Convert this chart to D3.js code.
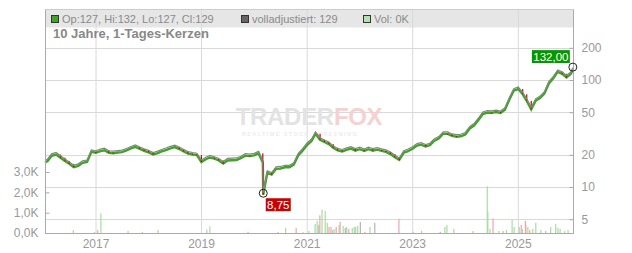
<!DOCTYPE html>
<html>
<head>
<meta charset="utf-8">
<script src="https://cdn.jsdelivr.net/npm/d3@7"></script>
<style>
  body { margin: 0; background: #fff; }
  svg { display: block; font-family: "Liberation Sans", Arial, sans-serif; }
</style>
</head>
<body>
<div id="chart"></div>
<script>
// Monatsschlusskurse Jan 2016 .. Dez 2025
const closes = [
  18.0, 20.2, 20.8, 19.4, 18.1, 17.0, 15.8, 16.3, 17.4, 17.7, 22.0, 21.6,
  22.4, 22.8, 21.6, 21.4, 21.7, 21.9, 22.7, 23.7, 24.5, 23.4, 22.5, 21.8,
  20.8, 21.3, 22.2, 22.9, 23.7, 24.4, 23.4, 22.2, 21.2, 20.8, 20.5, 17.7,
  18.8, 19.5, 19.0, 18.3, 17.1, 18.3, 18.4, 18.5, 19.2, 20.3, 20.1, 20.4,
  21.3, 17.5, 14.0, 13.5, 15.3, 15.4, 15.8, 15.8, 16.7, 20.4, 22.6, 25.5,
  27.8, 32.5, 28.6, 27.2, 26.0, 24.0, 22.7, 22.2, 23.0, 23.6, 22.6, 23.3,
  22.4, 23.3, 22.6, 23.1, 22.5, 22.0, 21.0, 19.6, 18.5, 21.6, 22.4, 23.5,
  25.2, 25.7, 24.7, 25.4, 28.0, 29.3, 32.5, 32.4, 31.0, 30.5, 30.8, 32.0,
  36.4, 38.8, 43.7, 49.7, 51.3, 51.0, 51.8, 50.8, 54.5, 68.0, 82.0, 85.0,
  76.0, 66.0, 55.0, 66.0, 70.0, 77.0, 96.0, 107, 123, 118, 109, 118
];
const firstDate = "2016-01-14";
const firstClose = 17.6;
const lastDate = "2026-01-13";
const lastClose = 129;
const highValue = 132;
const lowDate = "2020-03-03";
const lowValue = 8.75;

const priceTicks = [5, 10, 20, 50, 100, 200];
const volTicks = [0, 1000, 2000, 3000];
const yearTicks = [2017, 2019, 2021, 2023, 2025];

// Volumen (nur die sichtbaren Balken), u = steigend, d = fallend, n = neutral
const volDates = [
  "2016-07-27", "2016-12-20", "2017-01-12", "2017-02-03", "2017-08-10", "2017-11-17",
  "2018-03-05", "2019-02-06", "2019-02-27", "2019-11-18", "2020-06-12", "2020-08-04",
  "2020-10-16", "2020-12-02", "2021-01-12", "2021-02-24", "2021-03-10", "2021-03-22",
  "2021-03-29", "2021-04-13", "2021-05-05", "2021-05-19", "2021-05-31", "2021-06-14",
  "2021-06-25", "2021-07-06", "2021-07-20", "2021-08-09", "2021-08-16", "2021-09-06",
  "2021-09-21", "2021-10-01", "2021-10-15", "2021-11-08", "2021-11-22", "2021-12-02",
  "2021-12-16", "2022-01-03", "2022-02-03", "2022-03-11", "2022-04-13", "2022-09-27",
  "2023-01-03", "2023-03-03", "2023-07-10", "2023-08-11", "2023-08-25", "2023-10-12",
  "2024-02-21", "2024-05-30", "2024-06-03", "2024-06-18", "2024-07-09", "2024-08-19",
  "2024-09-17", "2024-10-10", "2024-11-18", "2024-12-02", "2025-01-06", "2025-01-20",
  "2025-01-28", "2025-02-18", "2025-02-21", "2025-03-07", "2025-03-20", "2025-04-10",
  "2025-05-01", "2025-06-05", "2025-07-09", "2025-08-12", "2025-09-16", "2025-10-01",
  "2025-10-16", "2025-11-17", "2025-12-10"
];
const volValues = [
  150, 40, 150, 970, 100, 50,
  150, 170, 330, 60, 50, 250,
  250, 40, 100, 450, 600, 400,
  870, 1150, 1080, 500, 300, 300,
  150, 200, 300, 400, 550, 350,
  250, 300, 200, 250, 300, 300,
  350, 540, 60, 300, 500, 700,
  60, 100, 60, 300, 400, 200,
  100, 2300, 1050, 200, 720, 100,
  100, 150, 650, 300, 300, 400,
  200, 600, 400, 300, 150, 200,
  500, 150, 100, 300, 450, 250,
  200, 100, 150
];
const volDir = [
  "u", "d", "d", "u", "u", "u",
  "u", "u", "u", "d", "d", "u",
  "d", "u", "u", "u", "u", "n",
  "d", "u", "u", "u", "d", "d",
  "u", "u", "d", "u", "d", "u",
  "n", "u", "d", "u", "u", "u",
  "u", "n", "d", "u", "n", "d",
  "u", "u", "n", "u", "u", "u",
  "u", "u", "u", "u", "d", "u",
  "d", "u", "u", "u", "u", "d",
  "u", "d", "d", "u", "d", "u",
  "u", "u", "d", "u", "u", "u",
  "u", "u", "u"
];

const width = 632, height = 253;
const mLeft = 45, mRight = 573, mTop = 9.5, mBottom = 233;

const parse = d3.timeParse("%Y-%m-%d");
const de = d3.formatLocale({ decimal: ",", thousands: ".", grouping: [3], currency: ["", " €"] });

// Kursreihe: Startpunkt, Monatsenden (31.01.2016 .. 31.12.2025), Tief, letzter Kurs
const monthEnds = d3.timeMonth.range(new Date(2016, 1, 1), new Date(2026, 0, 2))
  .map(d => d3.timeDay.offset(d, -1));
let series = [{ date: parse(firstDate), value: firstClose }];
closes.forEach((c, i) => series.push({ date: monthEnds[i], value: c }));
series.push({ date: parse(lowDate), value: lowValue });
series.push({ date: parse(lastDate), value: lastClose });
series.sort((a, b) => a.date - b.date);

const x = d3.scaleTime()
  .domain([parse("2016-01-14"), parse("2026-01-14")])
  .range([mLeft, mRight]);

const y = d3.scaleLog()
  .domain([3.72, 456])
  .range([mBottom, mTop]);

const yVol = d3.scaleLinear()
  .domain([0, 11000])
  .range([mBottom, mTop]);

const svg = d3.select("#chart")
  .append("svg")
  .attr("width", width)
  .attr("height", height);

// Kopfzeile
svg.append("rect")
  .attr("x", mLeft).attr("y", mTop)
  .attr("width", mRight - mLeft).attr("height", 18)
  .attr("fill", "#e6e6e6");

// Gitter
svg.append("g")
  .selectAll("line")
  .data(yearTicks)
  .join("line")
  .attr("x1", d => x(new Date(d, 0, 1))).attr("x2", d => x(new Date(d, 0, 1)))
  .attr("y1", mTop).attr("y2", mBottom)
  .attr("stroke", "#d9d9d9");

svg.append("g")
  .selectAll("line")
  .data(priceTicks)
  .join("line")
  .attr("x1", mLeft).attr("x2", mRight)
  .attr("y1", d => Math.round(y(d)) + 0.5).attr("y2", d => Math.round(y(d)) + 0.5)
  .attr("stroke", "#d9d9d9");

// Wasserzeichen
const wm = svg.append("text")
  .attr("x", 309).attr("y", 125)
  .attr("text-anchor", "middle")
  .style("font-size", "24px")
  .style("font-weight", "bold")
  .style("letter-spacing", "-0.3px");
wm.append("tspan").text("TRADER").attr("fill", "#e3e3e3");
wm.append("tspan").text("FOX").attr("fill", "#f7d0d0");
svg.append("text")
  .attr("x", 300).attr("y", 136)
  .attr("text-anchor", "middle")
  .style("font-size", "5.5px")
  .style("font-weight", "bold")
  .style("letter-spacing", "1.4px")
  .attr("fill", "#ececec")
  .text("REALTIME STOCK SCREENING");

// Volumen
const volColor = { u: "#a8dca2", d: "#f2a4ac", n: "#b4b4b4" };
svg.append("g")
  .selectAll("rect")
  .data(volDates.map((d, i) => ({ date: parse(d), v: volValues[i], dir: volDir[i] })))
  .join("rect")
  .attr("x", d => x(d.date) - 0.5)
  .attr("y", d => yVol(d.v))
  .attr("width", 1.2)
  .attr("height", d => mBottom - yVol(d.v))
  .attr("fill", d => volColor[d.dir]);

// Kerzen (grün) als dicke Linie, rote Kerzen bei fallenden Monaten
const line = d3.line().x(d => x(d.date)).y(d => y(d.value));

svg.append("path")
  .datum(series)
  .attr("d", line)
  .attr("transform", "translate(0,1.5)")
  .attr("fill", "none")
  .attr("stroke", "#3fa526")
  .attr("stroke-width", 2.4);

svg.append("g")
  .selectAll("rect")
  .data(series.slice(1).map((d, i) => ({ date: d.date, open: series[i].value, close: d.value }))
    .filter(d => d.close < d.open))
  .join("rect")
  .attr("x", d => x(d.date) - 0.6)
  .attr("y", d => y(d.open) + 1.5)
  .attr("width", 1.2)
  .attr("height", d => Math.max(1, y(d.close) - y(d.open)))
  .attr("fill", "#cc0000");

svg.append("path")
  .datum(series)
  .attr("d", line)
  .attr("transform", "translate(0,-0.5)")
  .attr("fill", "none")
  .attr("stroke", "#858585")
  .attr("stroke-width", 1.2);

// Achsen
svg.append("line").attr("x1", mLeft + 0.5).attr("x2", mLeft + 0.5).attr("y1", mTop).attr("y2", mBottom).attr("stroke", "#aaa");
svg.append("line").attr("x1", mRight + 0.5).attr("x2", mRight + 0.5).attr("y1", mTop).attr("y2", mBottom).attr("stroke", "#aaa");
svg.append("line").attr("x1", mLeft).attr("x2", mRight + 1).attr("y1", mBottom + 0.5).attr("y2", mBottom + 0.5).attr("stroke", "#aaa");
svg.append("line").attr("x1", mLeft).attr("x2", mRight + 1).attr("y1", mTop).attr("y2", mTop).attr("stroke", "#ccc");

const rightAxis = svg.append("g")
  .attr("transform", `translate(${mRight + 0.5},0)`)
  .call(d3.axisRight(y).tickValues(priceTicks).tickFormat(d3.format("d")).tickSize(-4).tickPadding(8));
rightAxis.select(".domain").remove();
rightAxis.selectAll("line").attr("stroke", "#aaa");
rightAxis.selectAll("text").attr("fill", "#999").style("font-size", "12px");
rightAxis.attr("font-family", null);

const leftAxis = svg.append("g")
  .attr("transform", `translate(${mLeft + 0.5},0)`)
  .call(d3.axisLeft(yVol).tickValues(volTicks).tickFormat(d => de.format(".1f")(d / 1000) + "K").tickSize(-4).tickPadding(7));
leftAxis.select(".domain").remove();
leftAxis.selectAll("line").attr("stroke", "#aaa");
leftAxis.selectAll("text").attr("fill", "#999").style("font-size", "12px");
leftAxis.attr("font-family", null);

svg.append("g")
  .selectAll("text")
  .data(yearTicks)
  .join("text")
  .attr("x", d => x(new Date(d, 0, 1)))
  .attr("y", 248)
  .attr("text-anchor", "middle")
  .attr("fill", "#999")
  .style("font-size", "12px")
  .text(d => d);

// Legende
const legend = [
  { x: 51, fill: "#3fa526", text: "Op:127, Hi:132, Lo:127, Cl:129" },
  { x: 241, fill: "#666", text: "volladjustiert: 129" },
  { x: 363, fill: "#b5e3b0", text: "Vol: 0K" }
];
const lg = svg.append("g").selectAll("g").data(legend).join("g");
lg.append("rect")
  .attr("x", d => d.x + 0.5).attr("y", 15.5)
  .attr("width", 7).attr("height", 7)
  .attr("fill", d => d.fill)
  .attr("stroke", "#333");
lg.append("text")
  .attr("x", d => d.x + 11).attr("y", 23)
  .attr("fill", "#8a8a8a")
  .style("font-size", "11px")
  .text(d => d.text);

svg.append("text")
  .attr("x", 53).attr("y", 38)
  .attr("fill", "#888")
  .style("font-size", "13px")
  .style("font-weight", "bold")
  .text("10 Jahre, 1-Tages-Kerzen");

// Hoch / Tief Markierungen
const hx = x(parse(lastDate)), hy = y(highValue);
svg.append("circle").attr("cx", hx).attr("cy", hy).attr("r", 4)
  .attr("fill", "none").attr("stroke", "#222").attr("stroke-width", 1);
svg.append("rect").attr("x", hx - 41).attr("y", hy - 17).attr("width", 38).attr("height", 13).attr("fill", "#009a00");
svg.append("text").attr("x", hx - 22).attr("y", hy - 6.5).attr("text-anchor", "middle")
  .attr("fill", "#fff").style("font-size", "11.5px").text(de.format(".2f")(highValue));

const lx = x(parse(lowDate)), ly = y(lowValue);
svg.append("circle").attr("cx", lx).attr("cy", ly).attr("r", 4)
  .attr("fill", "none").attr("stroke", "#222").attr("stroke-width", 1);
svg.append("rect").attr("x", lx + 2.5).attr("y", ly + 5).attr("width", 25).attr("height", 13).attr("fill", "#cc0000");
svg.append("text").attr("x", lx + 15).attr("y", ly + 15.5).attr("text-anchor", "middle")
  .attr("fill", "#fff").style("font-size", "11.5px").text(de.format(".2f")(lowValue));
</script>
</body>
</html>
